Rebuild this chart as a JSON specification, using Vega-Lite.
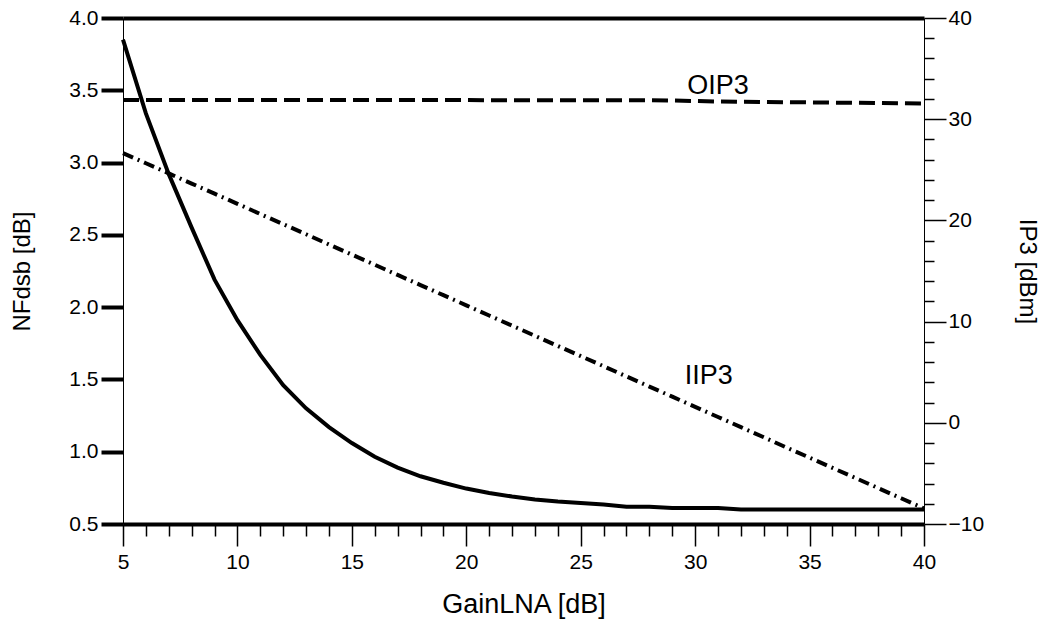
{
  "$schema": "https://vega.github.io/schema/vega-lite/v6.json",
  "width": 801,
  "height": 506,
  "autosize": "none",
  "padding": {"left": 123, "top": 18, "right": 118, "bottom": 108},
  "background": "white",
  "config": {
    "view": {"stroke": null},
    "font": "Liberation Sans",
    "axis": {
      "labelFont": "Liberation Sans",
      "titleFont": "Liberation Sans",
      "labelColor": "black",
      "titleColor": "black",
      "titleFontWeight": "normal",
      "domainColor": "black",
      "tickColor": "black",
      "labelFontSize": 21,
      "titleFontSize": 24,
      "labelOverlap": false,
      "labelFlush": false
    }
  },
  "datasets": {
    "nf": [
      {"gain": 5, "nf": 3.85}, {"gain": 6, "nf": 3.34}, {"gain": 7, "nf": 2.92}, {"gain": 8, "nf": 2.55},
      {"gain": 9, "nf": 2.19}, {"gain": 10, "nf": 1.91}, {"gain": 11, "nf": 1.67}, {"gain": 12, "nf": 1.46},
      {"gain": 13, "nf": 1.30}, {"gain": 14, "nf": 1.17}, {"gain": 15, "nf": 1.06}, {"gain": 16, "nf": 0.965},
      {"gain": 17, "nf": 0.89}, {"gain": 18, "nf": 0.83}, {"gain": 19, "nf": 0.785}, {"gain": 20, "nf": 0.745},
      {"gain": 21, "nf": 0.715}, {"gain": 22, "nf": 0.69}, {"gain": 23, "nf": 0.67}, {"gain": 24, "nf": 0.655},
      {"gain": 25, "nf": 0.645}, {"gain": 26, "nf": 0.635}, {"gain": 27, "nf": 0.62}, {"gain": 28, "nf": 0.62},
      {"gain": 29, "nf": 0.61}, {"gain": 30, "nf": 0.61}, {"gain": 31, "nf": 0.61}, {"gain": 32, "nf": 0.60},
      {"gain": 33, "nf": 0.60}, {"gain": 34, "nf": 0.60}, {"gain": 35, "nf": 0.60}, {"gain": 36, "nf": 0.60},
      {"gain": 37, "nf": 0.60}, {"gain": 38, "nf": 0.60}, {"gain": 39, "nf": 0.60}, {"gain": 40, "nf": 0.60}
    ],
    "oip3": [
      {"gain": 5, "ip3": 31.9}, {"gain": 6, "ip3": 31.9}, {"gain": 7, "ip3": 31.9}, {"gain": 8, "ip3": 31.9},
      {"gain": 9, "ip3": 31.9}, {"gain": 10, "ip3": 31.9}, {"gain": 11, "ip3": 31.9}, {"gain": 12, "ip3": 31.9},
      {"gain": 13, "ip3": 31.9}, {"gain": 14, "ip3": 31.9}, {"gain": 15, "ip3": 31.9}, {"gain": 16, "ip3": 31.9},
      {"gain": 17, "ip3": 31.9}, {"gain": 18, "ip3": 31.9}, {"gain": 19, "ip3": 31.9}, {"gain": 20, "ip3": 31.9},
      {"gain": 21, "ip3": 31.88}, {"gain": 22, "ip3": 31.88}, {"gain": 23, "ip3": 31.88}, {"gain": 24, "ip3": 31.88},
      {"gain": 25, "ip3": 31.88}, {"gain": 26, "ip3": 31.88}, {"gain": 27, "ip3": 31.88}, {"gain": 28, "ip3": 31.88},
      {"gain": 29, "ip3": 31.85}, {"gain": 30, "ip3": 31.8}, {"gain": 31, "ip3": 31.75}, {"gain": 32, "ip3": 31.72},
      {"gain": 33, "ip3": 31.7}, {"gain": 34, "ip3": 31.68}, {"gain": 35, "ip3": 31.66}, {"gain": 36, "ip3": 31.64},
      {"gain": 37, "ip3": 31.62}, {"gain": 38, "ip3": 31.6}, {"gain": 39, "ip3": 31.58}, {"gain": 40, "ip3": 31.55}
    ],
    "iip3": [
      {"gain": 5, "ip3": 26.65}, {"gain": 6, "ip3": 25.65}, {"gain": 7, "ip3": 24.64}, {"gain": 8, "ip3": 23.64},
      {"gain": 9, "ip3": 22.64}, {"gain": 10, "ip3": 21.64}, {"gain": 11, "ip3": 20.63}, {"gain": 12, "ip3": 19.63},
      {"gain": 13, "ip3": 18.63}, {"gain": 14, "ip3": 17.62}, {"gain": 15, "ip3": 16.62}, {"gain": 16, "ip3": 15.62},
      {"gain": 17, "ip3": 14.61}, {"gain": 18, "ip3": 13.61}, {"gain": 19, "ip3": 12.61}, {"gain": 20, "ip3": 11.61},
      {"gain": 21, "ip3": 10.6}, {"gain": 22, "ip3": 9.6}, {"gain": 23, "ip3": 8.6}, {"gain": 24, "ip3": 7.59},
      {"gain": 25, "ip3": 6.59}, {"gain": 26, "ip3": 5.59}, {"gain": 27, "ip3": 4.58}, {"gain": 28, "ip3": 3.58},
      {"gain": 29, "ip3": 2.58}, {"gain": 30, "ip3": 1.58}, {"gain": 31, "ip3": 0.57}, {"gain": 32, "ip3": -0.43},
      {"gain": 33, "ip3": -1.43}, {"gain": 34, "ip3": -2.45}, {"gain": 35, "ip3": -3.44}, {"gain": 36, "ip3": -4.45},
      {"gain": 37, "ip3": -5.45}, {"gain": 38, "ip3": -6.45}, {"gain": 39, "ip3": -7.46}, {"gain": 40, "ip3": -8.46}
    ],
    "labels": [
      {"gain": 31.0, "ip3": 33.3, "text": "OIP3"},
      {"gain": 30.6, "ip3": 4.6, "text": "IIP3"}
    ]
  },
  "layer": [
    {
      "data": {"name": "nf"},
      "mark": {"type": "line", "color": "black", "strokeWidth": 4, "clip": false},
      "encoding": {
        "x": {
          "field": "gain",
          "type": "quantitative",
          "scale": {"domain": [5, 40], "nice": false, "zero": false},
          "axis": {
            "title": "GainLNA [dB]",
            "titleFontSize": 27,
            "orient": "bottom",
            "values": [5, 10, 15, 20, 25, 30, 35, 40],
            "tickSize": 22,
            "tickWidth": 1.5,
            "labelPadding": 5,
            "domain": false,
            "grid": false,
            "titlePadding": 19
          }
        },
        "y": {
          "field": "nf",
          "type": "quantitative",
          "scale": {"domain": [0.5, 4.0], "nice": false, "zero": false},
          "axis": {
            "title": "NFdsb [dB]",
            "orient": "left",
            "values": [0.5, 1.0, 1.5, 2.0, 2.5, 3.0, 3.5, 4.0],
            "format": ".1f",
            "tickSize": 22,
            "tickWidth": 4,
            "labelPadding": 3,
            "domain": true,
            "domainWidth": 1,
            "grid": true,
            "gridColor": "black",
            "gridWidth": 4,
            "gridOpacity": {"condition": {"test": "datum.value === 0.5 || datum.value === 4", "value": 1}, "value": 0},
            "titlePadding": 34
          }
        }
      }
    },
    {
      "layer": [
        {
          "data": {"name": "oip3"},
          "mark": {"type": "line", "color": "black", "strokeWidth": 4, "strokeDash": [16, 7]},
          "encoding": {
            "x": {"field": "gain", "type": "quantitative", "scale": {"domain": [5, 40], "nice": false, "zero": false}, "axis": null},
            "y": {
              "field": "ip3",
              "type": "quantitative",
              "scale": {"domain": [-10, 40], "nice": false, "zero": false},
              "axis": {
                "title": "IP3 [dBm]",
                "orient": "right",
                "values": [-10, 0, 10, 20, 30, 40],
                "tickSize": 22,
                "tickWidth": 1.5,
                "labelPadding": 2,
                "domain": true,
                "domainWidth": 1,
                "grid": false,
                "titlePadding": 31
              }
            }
          }
        },
        {
          "data": {"name": "labels"},
          "mark": {"type": "text", "color": "black", "fontSize": 27, "font": "Liberation Sans", "align": "center", "baseline": "middle"},
          "encoding": {
            "x": {"field": "gain", "type": "quantitative"},
            "y": {"field": "ip3", "type": "quantitative"},
            "text": {"field": "text"}
          }
        }
      ]
    },
    {
      "data": {"name": "iip3"},
      "mark": {"type": "line", "color": "black", "strokeWidth": 4, "strokeDash": [11, 5, 2, 5]},
      "encoding": {
        "x": {
          "field": "gain",
          "type": "quantitative",
          "scale": {"domain": [5, 40], "nice": false, "zero": false},
          "axis": {
            "orient": "bottom",
            "title": null,
            "values": [6,7,8,9,11,12,13,14,16,17,18,19,21,22,23,24,26,27,28,29,31,32,33,34,36,37,38,39],
            "tickSize": 12,
            "tickWidth": 1.5,
            "labels": false,
            "domain": false,
            "grid": false
          }
        },
        "y": {
          "field": "ip3",
          "type": "quantitative",
          "scale": {"domain": [-10, 40], "nice": false, "zero": false},
          "axis": {
            "orient": "right",
            "title": null,
            "values": [-8,-6,-4,-2,2,4,6,8,12,14,16,18,22,24,26,28,32,34,36,38],
            "tickSize": 10,
            "tickWidth": 1.5,
            "labels": false,
            "domain": false,
            "grid": false
          }
        }
      }
    }
  ],
  "resolve": {"scale": {"x": "independent", "y": "independent"}, "axis": {"x": "independent", "y": "independent"}}
}
